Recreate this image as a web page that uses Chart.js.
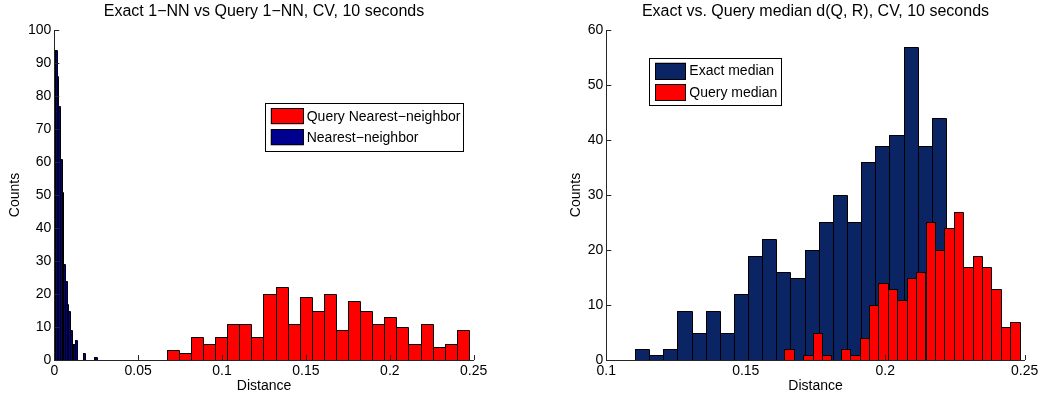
<!DOCTYPE html>
<html>
<head>
<meta charset="utf-8">
<script src="https://cdn.jsdelivr.net/npm/chart.js@4/dist/chart.umd.min.js"></script>
<style>
  html, body { margin: 0; padding: 0; background: #fff; overflow: hidden; width: 1040px; height: 396px; }
  canvas { position: absolute; top: 0; }
  #nnChart { left: 0; }
  #medianChart { left: 561px; }
</style>
</head>
<body>
<canvas id="nnChart" width="528" height="396"></canvas>
<canvas id="medianChart" width="509" height="396"></canvas>
<script>
// ---- Left panel: 1-NN distance histograms ----
const nnBinCenters = [0.0009, 0.0019, 0.0029, 0.0039, 0.0049, 0.0059, 0.0069, 0.0079, 0.0089, 0.0099,
  0.0109, 0.0119, 0.0129, 0.0139, 0.0149, 0.0159, 0.0169, 0.0179, 0.0189, 0.0199,
  0.0209, 0.0219, 0.0229, 0.0239, 0.0249];
const nnCounts = [94, 86, 77, 61, 51, 29, 24, 17, 15, 9, 3, 5, 6, 0, 0, 0, 0, 2, 0, 0, 0, 0, 0, 1, 1];

const queryNnBinCenters = [0.0707, 0.0779, 0.0851, 0.0923, 0.0995, 0.1067, 0.1139, 0.1211, 0.1283, 0.1355,
  0.1427, 0.1499, 0.1571, 0.1643, 0.1715, 0.1787, 0.1859, 0.1931, 0.2003, 0.2075,
  0.2147, 0.2219, 0.2291, 0.2363, 0.2435];
const queryNnCounts = [3, 2, 7, 5, 7, 11, 11, 7, 20, 22, 11, 19, 15, 20, 9, 18, 15, 11, 13, 10, 5, 11, 4, 5, 9];

const nnXTicks = [0, 0.05, 0.1, 0.15, 0.2, 0.25];
const nnYTicks = [0, 10, 20, 30, 40, 50, 60, 70, 80, 90, 100];

// ---- Right panel: median d(Q, R) histograms ----
const exactMedianBinCenters = [0.11280, 0.11787, 0.12294, 0.12801, 0.13308, 0.13815, 0.14322, 0.14829,
  0.15336, 0.15843, 0.16350, 0.16857, 0.17364, 0.17871, 0.18378, 0.18885, 0.19392, 0.19899,
  0.20406, 0.20913, 0.21420, 0.21927];
const exactMedianCounts = [2, 1, 2, 9, 5, 9, 5, 12, 19, 22, 16, 15, 20, 25, 30, 25, 36, 39, 41, 57, 39, 44];

const queryMedianBinCenters = [0.16549, 0.16887, 0.17224, 0.17562, 0.17899, 0.18237, 0.18575, 0.18912,
  0.19250, 0.19587, 0.19925, 0.20263, 0.20600, 0.20938, 0.21275, 0.21613, 0.21951, 0.22288,
  0.22626, 0.22963, 0.23301, 0.23639, 0.23976, 0.24314, 0.24651];
const queryMedianCounts = [2, 0, 1, 5, 1, 0, 2, 1, 4, 10, 14, 13, 11, 15, 16, 25, 20, 24, 27, 17, 19, 17, 13, 6, 7];

const medianXTicks = [0.1, 0.15, 0.2, 0.25];
const medianYTicks = [0, 10, 20, 30, 40, 50, 60];

// ---- Shared styling ----
const FONT = "'Liberation Sans', Arial, Helvetica, sans-serif";
const AXIS_COLOR = '#262626';
const RED = '#ff0000';
const NAVY = '#00008f';
const DARK_BLUE = '#0b2464';

// Snap every bar to whole pixels before it is filled, then outline it in
// black so neighbouring bars share one crisp 1px edge.
const barOutlines = {
  id: 'barOutlines',
  beforeDatasetDraw(chart, args) {
    args.meta.data.forEach(bar => {
      const l = Math.round(bar.x - bar.width / 2);
      const r = Math.round(bar.x + bar.width / 2);
      bar.x = (l + r) / 2;
      bar.width = r - l;
      bar.y = Math.round(bar.y);
      bar.base = Math.round(bar.base);
    });
  },
  afterDatasetDraw(chart, args, o) {
    const { ctx, chartArea } = chart;
    ctx.save();
    ctx.beginPath();
    ctx.rect(chartArea.left, chartArea.top - 1, chartArea.width + 1, chartArea.height + 1);
    ctx.clip();
    ctx.strokeStyle = o.color;
    ctx.lineWidth = 1;
    ctx.beginPath();
    args.meta.data.forEach(bar => {
      if (Math.abs(bar.base - bar.y) < 0.5) return;
      const l = bar.x - bar.width / 2 + 0.5;
      const r = bar.x + bar.width / 2 + 0.5;
      ctx.rect(l, bar.y + 0.5, r - l, bar.base - bar.y);
    });
    ctx.stroke();
    ctx.restore();
  }
};

// Boxed legend drawn inside the plot area, one row per dataset.
const boxLegend = {
  id: 'boxLegend',
  afterDraw(chart, args, o) {
    const { ctx, chartArea } = chart;
    const x0 = chartArea.left + o.dx;
    const y0 = chartArea.top + o.dy;
    ctx.save();
    ctx.fillStyle = '#fff';
    ctx.fillRect(x0, y0, o.width, o.height);
    ctx.strokeStyle = '#000';
    ctx.lineWidth = 1;
    ctx.strokeRect(Math.round(x0) + 0.5, Math.round(y0) + 0.5, Math.round(o.width), Math.round(o.height));
    ctx.font = o.fontSize + 'px ' + FONT;
    ctx.textBaseline = 'middle';
    ctx.textAlign = 'left';
    chart.data.datasets.forEach((ds, i) => {
      const sy = y0 + o.padTop + i * o.rowGap;
      const sx = x0 + o.swatchX;
      ctx.fillStyle = ds.backgroundColor;
      ctx.fillRect(sx, sy, o.swatchW, o.swatchH);
      ctx.strokeStyle = '#000';
      ctx.strokeRect(Math.round(sx) + 0.5, Math.round(sy) + 0.5, Math.round(o.swatchW) - 1, Math.round(o.swatchH) - 1);
      ctx.fillStyle = '#000';
      ctx.fillText(ds.label, x0 + o.textX, sy + o.swatchH / 2 + 0.5);
    });
    ctx.restore();
  }
};

// Tick marks pointing into the plot area along the left and bottom axes.
const inwardTicks = {
  id: 'inwardTicks',
  afterDatasetsDraw(chart, args, o) {
    const { ctx, chartArea, scales } = chart;
    ctx.save();
    ctx.strokeStyle = o.color;
    ctx.lineWidth = 1;
    ctx.beginPath();
    scales.x.ticks.forEach(t => {
      const px = Math.round(scales.x.getPixelForValue(t.value)) + 0.5;
      ctx.moveTo(px, chartArea.bottom);
      ctx.lineTo(px, chartArea.bottom - o.length);
    });
    scales.y.ticks.forEach(t => {
      const py = Math.round(scales.y.getPixelForValue(t.value)) + 0.5;
      ctx.moveTo(chartArea.left, py);
      ctx.lineTo(chartArea.left + o.length, py);
    });
    ctx.stroke();
    ctx.restore();
  }
};

function histogram(label, centers, counts, color, axisId, order) {
  return {
    label: label,
    order: order,
    xAxisID: axisId,
    yAxisID: 'y',
    data: centers.map((c, i) => ({ x: c, y: counts[i] })),
    backgroundColor: color,
    borderWidth: 0,
    inflateAmount: 0,
    barPercentage: 1,
    categoryPercentage: 1,
    grouped: false
  };
}

function panel(canvasId, p) {
  const tickFont = { family: FONT, size: 14 };
  const hiddenGrid = { display: true, drawOnChartArea: false, drawTicks: false };
  const axisBorder = { display: true, color: AXIS_COLOR, width: 1 };
  return new Chart(document.getElementById(canvasId), {
    type: 'bar',
    data: { datasets: p.datasets },
    options: {
      responsive: false,
      animation: false,
      devicePixelRatio: 1,
      layout: { padding: 0 },
      plugins: {
        legend: { display: false },
        tooltip: { enabled: false },
        title: {
          display: true, text: p.title, color: '#000',
          font: { family: FONT, size: 16, weight: 'normal' },
          padding: { top: 2.4, bottom: 8.4 }
        },
        barOutlines: { color: '#000' },
        boxLegend: p.legend,
        inwardTicks: { length: 5, color: AXIS_COLOR }
      },
      scales: {
        x: {
          type: 'linear', position: 'bottom', min: p.xMin, max: p.xMax, offset: false,
          grid: hiddenGrid, border: axisBorder,
          ticks: { color: '#000', font: tickFont, padding: 3, autoSkip: false, maxRotation: 0,
                   callback: v => String(v) },
          afterBuildTicks: s => { s.ticks = p.xTicks.map(v => ({ value: v })); },
          title: { display: true, text: 'Distance', color: '#000', font: tickFont,
                   padding: { top: 0, bottom: 1 } },
          afterFit: s => { s.height = 36; }
        },
        x2: { type: 'linear', display: false, min: p.xMin, max: p.xMax, offset: false },
        y: {
          type: 'linear', position: 'left', min: 0, max: p.yMax,
          grid: hiddenGrid, border: axisBorder,
          ticks: { color: '#000', font: tickFont, padding: 3, autoSkip: false,
                   callback: v => String(v) },
          afterBuildTicks: s => { s.ticks = p.yTicks.map(v => ({ value: v })); },
          title: { display: true, text: 'Counts', color: '#000', font: tickFont,
                   padding: { top: 6.6, bottom: 0 } },
          afterFit: s => { s.width = p.yAxisWidth; }
        },
        // mirror gutter on the right keeps the title centred over the axes
        yGutter: {
          type: 'linear', position: 'right', display: true,
          grid: { display: false }, border: { display: false }, ticks: { display: false },
          afterFit: s => { s.width = p.yAxisWidth; }
        }
      }
    },
    plugins: [barOutlines, boxLegend, inwardTicks]
  });
}

panel('nnChart', {
  title: 'Exact 1\u2212NN vs Query 1\u2212NN, CV, 10 seconds',
  xMin: 0, xMax: 0.25, yMax: 100,
  xTicks: nnXTicks, yTicks: nnYTicks, yAxisWidth: 54.3,
  datasets: [
    histogram('Query Nearest\u2212neighbor', queryNnBinCenters, queryNnCounts, RED, 'x', 0),
    histogram('Nearest\u2212neighbor', nnBinCenters, nnCounts, NAVY, 'x2', 1)
  ],
  legend: { dx: 210.7, dy: 72.7, width: 198, height: 48, padTop: 5.6, rowGap: 21,
            swatchX: 5.7, swatchW: 33, swatchH: 16, textX: 41.7, fontSize: 14 }
});

panel('medianChart', {
  title: 'Exact vs. Query median d(Q, R), CV, 10 seconds',
  xMin: 0.1, xMax: 0.25, yMax: 60,
  xTicks: medianXTicks, yTicks: medianYTicks, yAxisWidth: 45.3,
  datasets: [
    histogram('Exact median', exactMedianBinCenters, exactMedianCounts, DARK_BLUE, 'x2', 1),
    histogram('Query median', queryMedianBinCenters, queryMedianCounts, RED, 'x', 0)
  ],
  legend: { dx: 42.7, dy: 28.3, width: 132, height: 47.4, padTop: 4.4, rowGap: 21.6,
            swatchX: 6, swatchW: 31, swatchH: 16.6, textX: 40.3, fontSize: 14 }
});
</script>
</body>
</html>
